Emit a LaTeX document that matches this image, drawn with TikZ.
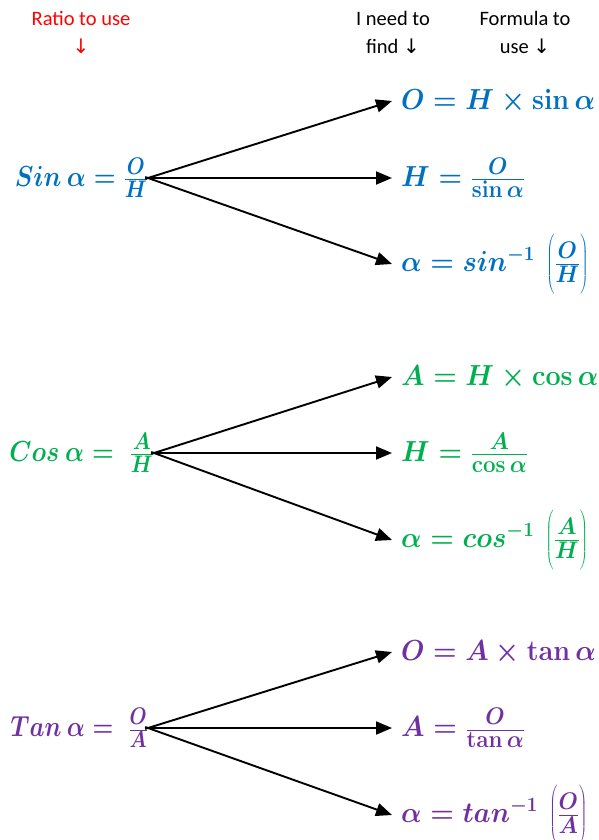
\RequirePackage{fix-cm}
\documentclass[tikz,border=0pt]{standalone}
\usepackage{graphicx}
\usepackage[no-math]{fontspec}
\setmainfont{Carlito}
\newfontfamily\arrfont{DejaVu Sans}
\usetikzlibrary{arrows.meta}
\definecolor{sinblue}{HTML}{0070C0}
\definecolor{cosgreen}{HTML}{00B050}
\definecolor{tanpurple}{HTML}{7030A0}
\newcommand\lmx[2][0.88]{\scalebox{#1}[1]{$#2$}}
\newcommand\rmx[1]{\scalebox{0.93}[1]{$#1$}}
\newcommand\fr[2]{\frac{\hbox{\fontsize{24}{24}\selectfont$#1$}}{\hbox{\fontsize{24}{24}\selectfont$#2$}}}
\newcommand\tall{\vrule height 25pt depth 23pt width 0pt}
\newcommand\darr{{\arrfont\fontsize{20}{20}\selectfont ↓}}
\begin{document}
\begin{tikzpicture}[x=1pt,y=-1pt,
  hdr/.style={font=\fontsize{20.5}{28}\selectfont, align=center, inner sep=0pt},
  mth/.style={font=\fontsize{29}{34}\selectfont\boldmath, inner sep=0pt},
  lft/.style={mth, anchor=east},
  rgt/.style={mth, anchor=west, inner xsep=9pt},
  arr/.style={-{Triangle[length=16pt,width=13pt]}, line width=1.9pt, shorten <=-3pt}]
\useasboundingbox (0,0) rectangle (599,840);
% headers
\node[hdr, text=red] (h1) at (81,32) {Ratio to use\\\darr};
\node[hdr] (h2) at (393,32) {I need to\\find \darr};
\node[hdr] (h3) at (525,32) {Formula to\\use \darr};
% sin block
\begin{scope}[text=sinblue]
\node[lft] (sL) at (148,178) {\lmx[0.86]{Sin\ \alpha = \fr{O}{H}}};
\node[rgt] (s1) at (392,101) {\rmx{O = H \times \sin\alpha}};
\node[rgt] (s2) at (392,178) {\rmx{H = \fr{O}{\sin\alpha}}};
\node[rgt] (s3) at (392,264) {\rmx{\alpha = sin^{-1}\ \left(\tall\fr{O}{H}\right)}};
\end{scope}
\draw[arr] (sL.east) -- (s1.west);
\draw[arr] (sL.east) -- (s2.west);
\draw[arr] (sL.east) -- (s3.west);
% cos block
\begin{scope}[text=cosgreen]
\node[lft] (cL) at (154,453) {\lmx[0.86]{Cos\ \alpha =\;\fr{A}{H}}};
\node[rgt] (c1) at (392,377) {\rmx{A = H \times \cos\alpha}};
\node[rgt] (c2) at (392,453) {\rmx{H = \fr{A}{\cos\alpha}}};
\node[rgt] (c3) at (392,540) {\rmx{\alpha = cos^{-1}\ \left(\tall\fr{A}{H}\right)}};
\end{scope}
\draw[arr] (cL.east) -- (c1.west);
\draw[arr] (cL.east) -- (c2.west);
\draw[arr] (cL.east) -- (c3.west);
% tan block
\begin{scope}[text=tanpurple]
\node[lft] (tL) at (148,728) {\lmx[0.82]{Tan\ \alpha =\;\fr{O}{A}}};
\node[rgt] (t1) at (392,652) {\rmx{O = A \times \tan\alpha}};
\node[rgt] (t2) at (392,728) {\rmx{A = \fr{O}{\tan\alpha}}};
\node[rgt] (t3) at (392,815) {\rmx{\alpha = tan^{-1}\ \left(\tall\fr{O}{A}\right)}};
\end{scope}
\draw[arr] (tL.east) -- (t1.west);
\draw[arr] (tL.east) -- (t2.west);
\draw[arr] (tL.east) -- (t3.west);
\end{tikzpicture}
\end{document}
